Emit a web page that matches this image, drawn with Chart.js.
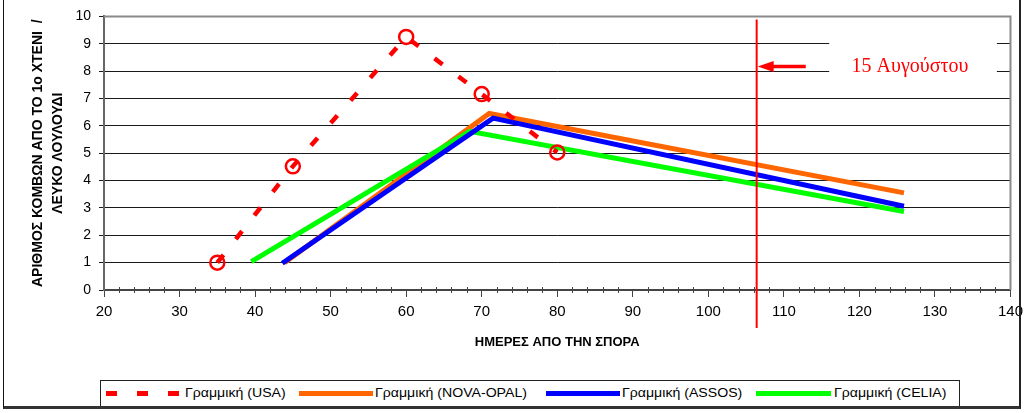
<!DOCTYPE html>
<html>
<head>
<meta charset="utf-8">
<script src="https://cdn.jsdelivr.net/npm/chart.js@4.4.1/dist/chart.umd.min.js"></script>
<style>
    html, body { margin: 0; padding: 0; background: #fff; }
    #wrap { position: relative; width: 1029px; height: 413px; overflow: hidden; }
    #chart { position: absolute; left: 0; top: 0; }
    #frame {
        position: absolute; left: 3px; top: -4px; width: 1018px; height: 413px;
        border-left: 1px solid #111; border-right: 2px solid #222; border-bottom: 3px solid #333;
        box-sizing: border-box; pointer-events: none;
    }
    #legend {
        position: absolute; left: 100px; top: 380px; width: 860px; height: 27px;
        border: 1px solid #222; box-sizing: border-box; background: #fff;
        font-family: Arial, "Liberation Sans", sans-serif; font-size: 12.5px; color: #000;
    }
    #legend .sw { position: absolute; top: 10px; height: 5px; }
    #legend .txt { position: absolute; top: 5px; white-space: nowrap; transform: scaleX(1.13); transform-origin: left center; }
</style>
</head>
<body>
<div id="wrap">
    <canvas id="chart" width="1029" height="413"></canvas>
    <div id="legend"></div>
    <div id="frame"></div>
</div>
<script>
// Values
const usaX = [35, 45, 60, 70, 80];
const usaY = [1.0, 4.52, 9.25, 7.16, 5.03];

const novaX = [43.9, 71.0, 125.9];
const novaY = [1.0, 6.45, 3.55];

const assosX = [43.6, 71.5, 125.9];
const assosY = [0.98, 6.28, 3.06];

const celiaX = [39.5, 68.4, 125.9];
const celiaY = [1.04, 5.8, 2.87];

const seriesLabels = ['Γραμμική (USA)', 'Γραμμική (NOVA-OPAL)', 'Γραμμική (ASSOS)', 'Γραμμική (CELIA)'];
const seriesColors = ['#ff0000', '#ff6600', '#0000ff', '#00ff00'];

const yTitle = ['ΑΡΙΘΜΟΣ ΚΟΜΒΩΝ ΑΠΟ ΤΟ 1ο ΧΤΕΝΙ  /', 'ΛΕΥΚΟ ΛΟΥΛΟΥΔΙ'];
const xTitle = 'ΗΜΕΡΕΣ ΑΠΟ ΤΗΝ ΣΠΟΡΑ';

// Annotation: 15 August marker
const markerDay = 106.4;
const markerLabel = '15 Αυγούστου';
const markerLabelX = 126.7;
const markerLabelY = 8.17;

const FONT = 'Arial, "Liberation Sans", sans-serif';

function toPoints(xs, ys) {
    return xs.map((x, i) => ({ x, y: ys[i] }));
}

// Minor ticks on x axis, plot frame
const framePlugin = {
    id: 'frameTicks',
    beforeDatasetsDraw(chart) {
        const { ctx, chartArea: a, scales: { x } } = chart;
        ctx.save();
        ctx.strokeStyle = '#8a8a8a';
        ctx.lineWidth = 2;
        ctx.beginPath();
        ctx.moveTo(a.left, a.top);
        ctx.lineTo(a.right, a.top);
        ctx.lineTo(a.right, a.bottom);
        ctx.stroke();

        ctx.strokeStyle = '#444';
        ctx.lineWidth = 1;
        for (let v = 22; v < 140; v += 2) {
            if (v % 10 === 0) continue;
            const px = Math.round(x.getPixelForValue(v)) + 0.5;
            ctx.beginPath();
            ctx.moveTo(px, a.bottom - 3);
            ctx.lineTo(px, a.bottom + 3);
            ctx.stroke();
        }
        ctx.restore();
    }
};

const annotationPlugin = {
    id: 'augustMarker',
    afterDatasetsDraw(chart) {
        const { ctx, chartArea: a, scales: { x, y } } = chart;
        ctx.save();

        // white label box
        const bx0 = x.getPixelForValue(116.0);
        const bx1 = x.getPixelForValue(138.2);
        const by0 = y.getPixelForValue(9.1);
        const by1 = y.getPixelForValue(7.75);
        ctx.fillStyle = '#fff';
        ctx.fillRect(bx0, by0, bx1 - bx0, by1 - by0);

        ctx.fillStyle = '#ff0000';
        ctx.font = '20px "Liberation Serif", "Times New Roman", serif';
        ctx.textAlign = 'center';
        ctx.textBaseline = 'middle';
        ctx.fillText(markerLabel, x.getPixelForValue(markerLabelX), y.getPixelForValue(markerLabelY));

        // vertical line
        const lx = x.getPixelForValue(markerDay);
        ctx.strokeStyle = '#ff0000';
        ctx.lineWidth = 2;
        ctx.beginPath();
        ctx.moveTo(lx, a.top + 3);
        ctx.lineTo(lx, a.bottom + 38);
        ctx.stroke();

        // arrow
        const ay = y.getPixelForValue(markerLabelY);
        const tip = lx + 1;
        ctx.lineWidth = 3.5;
        ctx.beginPath();
        ctx.moveTo(tip + 14, ay);
        ctx.lineTo(x.getPixelForValue(112.9), ay);
        ctx.stroke();
        ctx.beginPath();
        ctx.moveTo(tip, ay);
        ctx.lineTo(tip + 16, ay - 5.5);
        ctx.lineTo(tip + 16, ay + 5.5);
        ctx.closePath();
        ctx.fill();
        ctx.restore();
    }
};

function buildLegend() {
    const el = document.getElementById('legend');
    const left = 100;
    const swatches = [
        { x: [106, 137, 168], w: 10.5 },
        { x: [298.5], w: 74 },
        { x: [546], w: 74 },
        { x: [756], w: 75 }
    ];
    const textX = [185, 375, 622, 834];
    let html = '';
    swatches.forEach((s, i) => {
        s.x.forEach(sx => {
            html += `<span class="sw" style="left:${sx - left - 1}px;width:${s.w}px;background:${seriesColors[i]};"></span>`;
        });
        html += `<span class="txt" style="left:${textX[i] - left - 1}px;">${seriesLabels[i]}</span>`;
    });
    el.innerHTML = html;
}

function buildChart() {
    const canvas = document.getElementById('chart');
    new Chart(canvas.getContext('2d'), {
        type: 'scatter',
        data: {
            datasets: [
                {
                    label: seriesLabels[0],
                    data: toPoints(usaX, usaY),
                    showLine: true,
                    borderColor: seriesColors[0],
                    borderWidth: 4.5,
                    borderDash: [10, 20],
                    borderCapStyle: 'butt',
                    pointRadius: 7,
                    pointBorderWidth: 2.5,
                    pointBorderColor: seriesColors[0],
                    pointBackgroundColor: 'rgba(0,0,0,0)',
                    order: 0
                },
                {
                    label: seriesLabels[2],
                    data: toPoints(assosX, assosY),
                    showLine: true,
                    borderColor: seriesColors[2],
                    borderWidth: 5,
                    pointRadius: 0,
                    order: 1
                },
                {
                    label: seriesLabels[3],
                    data: toPoints(celiaX, celiaY),
                    showLine: true,
                    borderColor: seriesColors[3],
                    borderWidth: 5,
                    pointRadius: 0,
                    order: 2
                },
                {
                    label: seriesLabels[1],
                    data: toPoints(novaX, novaY),
                    showLine: true,
                    borderColor: seriesColors[1],
                    borderWidth: 5,
                    pointRadius: 0,
                    order: 3
                }
            ]
        },
        options: {
            responsive: false,
            animation: false,
            devicePixelRatio: 1,
            layout: { padding: { left: 28, right: 17, top: 11, bottom: 63 } },
            plugins: {
                legend: { display: false },
                tooltip: { enabled: false }
            },
            scales: {
                x: {
                    type: 'linear',
                    min: 20,
                    max: 140,
                    ticks: { stepSize: 10, color: '#000', font: { family: FONT, size: 15 }, padding: 6, maxRotation: 0 },
                    grid: { drawOnChartArea: false, tickLength: 7, tickColor: '#444' },
                    border: { color: '#444', width: 2 },
                    title: { display: true, text: xTitle, color: '#000', font: { family: FONT, size: 13, weight: 'bold' }, padding: 0 },
                    afterFit(scale) { scale.height = 60; }
                },
                y: {
                    min: 0,
                    max: 10,
                    ticks: { stepSize: 1, color: '#000', font: { family: FONT, size: 14 }, padding: 8 },
                    grid: { color: '#1a1a1a', lineWidth: 1, tickLength: 5, tickColor: '#1a1a1a' },
                    border: { color: '#666', width: 2 },
                    title: { display: true, text: yTitle, color: '#000', font: { family: FONT, size: 14, weight: 'bold', lineHeight: 1.45 }, padding: 0 },
                    afterFit(scale) { scale.width = 76; }
                }
            }
        },
        plugins: [framePlugin, annotationPlugin]
    });
}

document.addEventListener('DOMContentLoaded', () => {
    buildLegend();
    buildChart();
});
</script>
</body>
</html>
